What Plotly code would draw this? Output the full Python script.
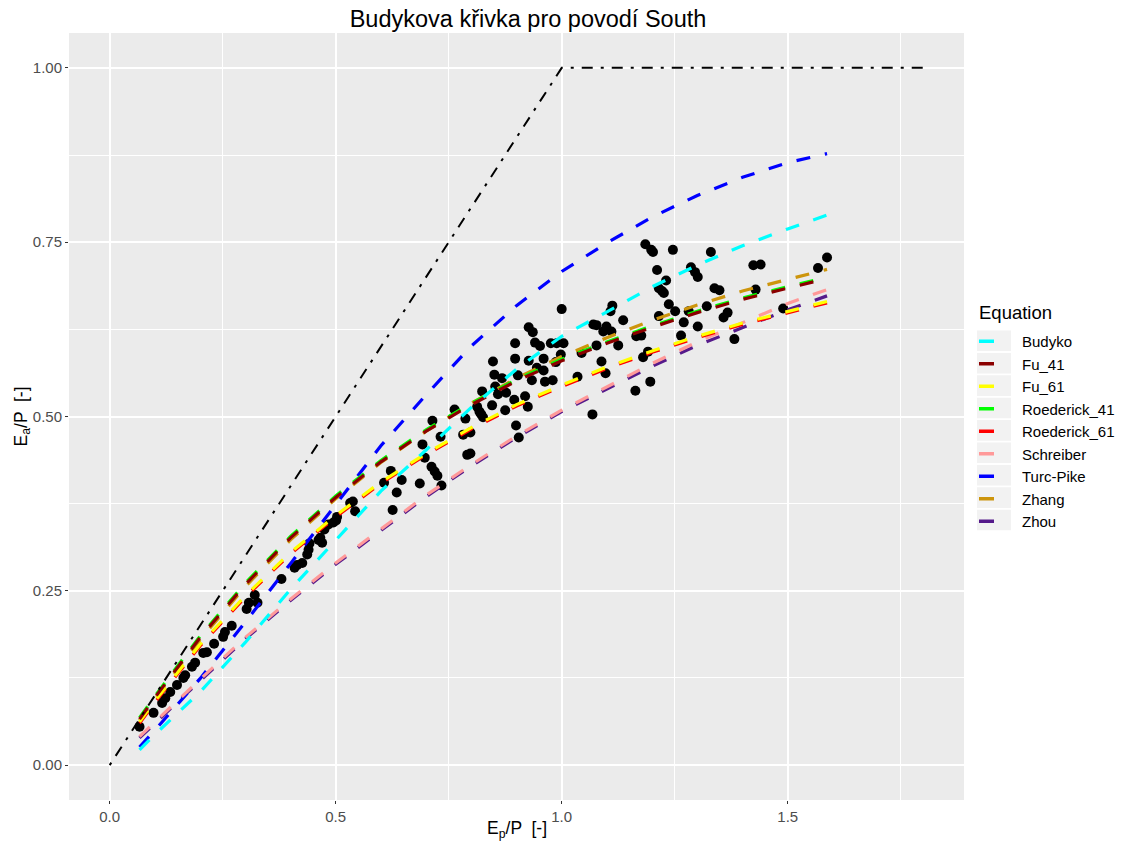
import plotly.graph_objects as go

# ---------------- data ----------------
ep_obs = [0.066, 0.097, 0.116, 0.123, 0.134, 0.149, 0.163, 0.167, 0.182, 0.189,
          0.207, 0.215, 0.231, 0.251, 0.255, 0.270, 0.303, 0.308, 0.321, 0.327,
          0.380, 0.409, 0.415, 0.426, 0.437, 0.440, 0.442, 0.462, 0.466, 0.470,
          0.475, 0.484, 0.495, 0.501, 0.503, 0.532, 0.538, 0.543, 0.607, 0.622,
          0.626, 0.635, 0.646, 0.686, 0.697, 0.712, 0.719, 0.725, 0.734, 0.714,
          0.732, 0.692, 0.791, 1.000, 0.927, 0.936, 0.897, 0.941, 0.952, 0.976,
          0.989, 1.004, 0.848, 0.897, 0.927, 0.960, 0.998, 0.987, 0.945, 0.960,
          0.851, 0.868, 0.903, 0.934, 0.963, 0.980, 0.824, 0.853, 0.859, 0.877,
          0.895, 0.919, 0.925, 0.846, 0.763, 0.813, 0.818, 0.822, 0.826, 0.787,
          0.875, 0.782, 0.798, 0.899, 0.905, 0.798, 1.068, 1.035, 1.044, 1.077,
          1.088, 1.097, 1.070, 1.077, 1.092, 1.099, 1.110, 1.125, 1.136, 1.108,
          1.112, 1.163, 1.185, 1.198, 1.202, 1.246, 1.330, 1.286, 1.295, 1.301,
          1.211, 1.231, 1.215, 1.222, 1.226, 1.424, 1.440, 1.567, 1.587, 1.338,
          1.349, 1.237, 1.251, 1.281, 1.321, 1.367, 1.358, 1.301, 1.429, 1.490,
          1.264, 1.382, 1.215, 1.165, 1.176, 1.191, 1.180, 1.196, 1.270]
ea_obs = [0.055, 0.075, 0.089, 0.096, 0.105, 0.115, 0.125, 0.129, 0.141, 0.147,
          0.161, 0.162, 0.174, 0.184, 0.191, 0.200, 0.224, 0.233, 0.244, 0.233,
          0.267, 0.283, 0.287, 0.290, 0.302, 0.309, 0.318, 0.323, 0.326, 0.319,
          0.338, 0.345, 0.348, 0.351, 0.356, 0.376, 0.378, 0.364, 0.405, 0.422,
          0.366, 0.391, 0.409, 0.404, 0.441, 0.428, 0.421, 0.415, 0.401, 0.494,
          0.471, 0.460, 0.445, 0.654, 0.628, 0.621, 0.605, 0.606, 0.601, 0.605,
          0.605, 0.605, 0.579, 0.583, 0.580, 0.583, 0.589, 0.578, 0.570, 0.566,
          0.560, 0.555, 0.559, 0.552, 0.550, 0.552, 0.536, 0.543, 0.532, 0.534,
          0.524, 0.529, 0.514, 0.516, 0.510, 0.514, 0.507, 0.503, 0.499, 0.497,
          0.509, 0.474, 0.477, 0.487, 0.470, 0.447, 0.503, 0.557, 0.591, 0.602,
          0.579, 0.562, 0.632, 0.631, 0.622, 0.629, 0.622, 0.602, 0.638, 0.651,
          0.659, 0.537, 0.747, 0.739, 0.736, 0.739, 0.736, 0.714, 0.707, 0.700,
          0.710, 0.695, 0.684, 0.680, 0.677, 0.717, 0.718, 0.713, 0.728, 0.684,
          0.681, 0.661, 0.651, 0.651, 0.658, 0.649, 0.642, 0.629, 0.682, 0.655,
          0.616, 0.611, 0.644, 0.615, 0.616, 0.593, 0.585, 0.550, 0.635]

curve_ep = [0.066, 0.1, 0.2, 0.3, 0.4, 0.5, 0.6, 0.7, 0.8, 0.9, 1.0,
            1.1, 1.2, 1.3, 1.4, 1.5, 1.587]
budyko = [0.022, 0.044, 0.105, 0.176, 0.252, 0.323, 0.393, 0.452, 0.513, 0.568, 0.615,
          0.650, 0.686, 0.717, 0.745, 0.769, 0.789]
fu_41 = [0.066, 0.097, 0.183, 0.259, 0.326, 0.384, 0.435, 0.479, 0.517, 0.551, 0.580,
         0.605, 0.628, 0.649, 0.668, 0.684, 0.698]
fu_61 = [0.062, 0.092, 0.173, 0.243, 0.305, 0.358, 0.406, 0.447, 0.484, 0.517, 0.545,
         0.571, 0.594, 0.615, 0.634, 0.651, 0.665]
roederick_41 = [0.068, 0.099, 0.185, 0.261, 0.328, 0.386, 0.437, 0.481, 0.519, 0.553, 0.582,
                0.607, 0.630, 0.651, 0.670, 0.686, 0.700]
roederick_61 = [0.060, 0.090, 0.171, 0.241, 0.303, 0.356, 0.404, 0.445, 0.482, 0.515, 0.543,
                0.569, 0.592, 0.613, 0.632, 0.649, 0.663]
schreiber = [0.041, 0.062, 0.123, 0.183, 0.238, 0.290, 0.339, 0.387, 0.431, 0.472, 0.509,
             0.543, 0.576, 0.607, 0.635, 0.662, 0.682]
turc_pike = [0.026, 0.050, 0.124, 0.205, 0.289, 0.374, 0.458, 0.531, 0.601, 0.659, 0.708,
             0.749, 0.786, 0.817, 0.843, 0.864, 0.877]
zhang = [0.064, 0.095, 0.180, 0.256, 0.323, 0.382, 0.434, 0.479, 0.519, 0.555, 0.586,
         0.613, 0.638, 0.660, 0.680, 0.697, 0.711]
zhou = [0.039, 0.060, 0.121, 0.181, 0.236, 0.288, 0.337, 0.385, 0.429, 0.470, 0.507,
        0.540, 0.572, 0.602, 0.628, 0.653, 0.673]

limit_ep = [0.0, 1.0, 1.8]
limit_ea = [0.0, 1.0, 1.0]

equations = ["Budyko", "Fu_41", "Fu_61", "Roederick_41", "Roederick_61",
             "Schreiber", "Turc-Pike", "Zhang", "Zhou"]
curves = [budyko, fu_41, fu_61, roederick_41, roederick_61,
          schreiber, turc_pike, zhang, zhou]
colors = ["#00FFFF", "#8B0000", "#FFFF00", "#00FF00", "#FF0000",
          "#FF9999", "#0000FF", "#CD950C", "#551A8B"]

x_ticks = [0.0, 0.5, 1.0, 1.5]
y_ticks = [0.00, 0.25, 0.50, 0.75, 1.00]

# ---------------- layout constants (pixels) ----------------
W, H = 1128, 842
PL, PR, PT, PB = 69, 964, 33, 800
FONT = "Liberation Sans, Arial, sans-serif"
pw = PR - PL
ph = PB - PT

fig = go.Figure()

fig.add_trace(go.Scatter(x=ep_obs, y=ea_obs, mode="markers",
                         marker=dict(color="black", size=10, line=dict(width=0)),
                         showlegend=False, hoverinfo="x+y"))

# curves drawn last-to-first so that the earlier equations lie on top
for name, ys, col in reversed(list(zip(equations, curves, colors))):
    fig.add_trace(go.Scatter(x=curve_ep, y=ys, mode="lines", name=name,
                             line=dict(color=col, width=3.2, dash="14px,15px"),
                             showlegend=False))

fig.add_trace(go.Scatter(x=limit_ep, y=limit_ea, mode="lines",
                         line=dict(color="black", width=2, dash="3px,8px,11px,8px"),
                         showlegend=False, hoverinfo="skip"))

# legend entries
for name, col in zip(equations, colors):
    fig.add_trace(go.Scatter(x=[None], y=[None], mode="lines", name=name,
                             line=dict(color=col, width=3.5, dash="15px,60px"),
                             showlegend=True))

# legend key backgrounds
shapes = []
for i in range(len(equations)):
    top = 330.5 + 22.4 * i
    bot = top + 20.6
    shapes.append(dict(type="rect", xref="paper", yref="paper",
                       x0=(977 - PL) / pw, x1=(1011 - PL) / pw,
                       y0=(PB - bot) / ph, y1=(PB - top) / ph,
                       fillcolor="#F2F2F2", line=dict(width=0), layer="below"))

annotations = [
    dict(text="Equation", xref="paper", yref="paper", x=(977 - PL) / pw, y=(PB - 312.5) / ph,
         xanchor="left", yanchor="middle", showarrow=False,
         font=dict(size=18.5, color="black", family=FONT)),
    dict(text="E<sub>p</sub>/P  [-]", xref="paper", yref="paper", x=0.5, y=(PB - 829) / ph,
         xanchor="center", yanchor="middle", showarrow=False,
         font=dict(size=17.5, color="black", family=FONT)),
    dict(text="E<sub>a</sub>/P  [-]", xref="paper", yref="paper", x=(22 - PL) / pw, y=0.5,
         xanchor="center", yanchor="middle", showarrow=False, textangle=-90,
         font=dict(size=17.5, color="black", family=FONT)),
]

fig.update_layout(
    width=W, height=H,
    margin=dict(l=PL, r=W - PR, t=PT, b=H - PB, autoexpand=False),
    paper_bgcolor="white", plot_bgcolor="#EBEBEB",
    font=dict(family=FONT, color="black"),
    title=dict(text="Budykova křivka pro povodí South", x=(528 - PL) / pw, xref="paper",
               xanchor="center", y=1 - 18.5 / H, yref="container", yanchor="middle",
               font=dict(size=23.5, color="black", family=FONT)),
    showlegend=True,
    legend=dict(x=(974 - PL) / pw, xanchor="left", y=(PB - 325) / ph, yanchor="top",
                font=dict(size=15, color="black"), bgcolor="rgba(0,0,0,0)",
                itemwidth=38, tracegroupgap=0, traceorder="normal"),
    shapes=shapes,
    annotations=annotations,
)

fig.update_xaxes(range=[-0.09, 1.89], tickvals=x_ticks, ticktext=[f"{v:.1f}" for v in x_ticks],
                 showgrid=True, gridcolor="white", gridwidth=2,
                 minor=dict(dtick=0.25, tick0=0, showgrid=True, gridcolor="white", gridwidth=1),
                 zeroline=False, showline=False, automargin=False,
                 ticks="outside", ticklen=3, tickwidth=1, tickcolor="#333333",
                 tickfont=dict(size=15, color="#4D4D4D", family=FONT))
fig.update_yaxes(range=[-0.05, 1.05], tickvals=y_ticks, ticktext=[f"{v:.2f}" for v in y_ticks],
                 showgrid=True, gridcolor="white", gridwidth=2,
                 minor=dict(dtick=0.125, tick0=0, showgrid=True, gridcolor="white", gridwidth=1),
                 zeroline=False, showline=False, automargin=False,
                 ticks="outside", ticklen=3, tickwidth=1, tickcolor="#333333",
                 tickfont=dict(size=15, color="#4D4D4D", family=FONT))

fig.write_html("out.html")
